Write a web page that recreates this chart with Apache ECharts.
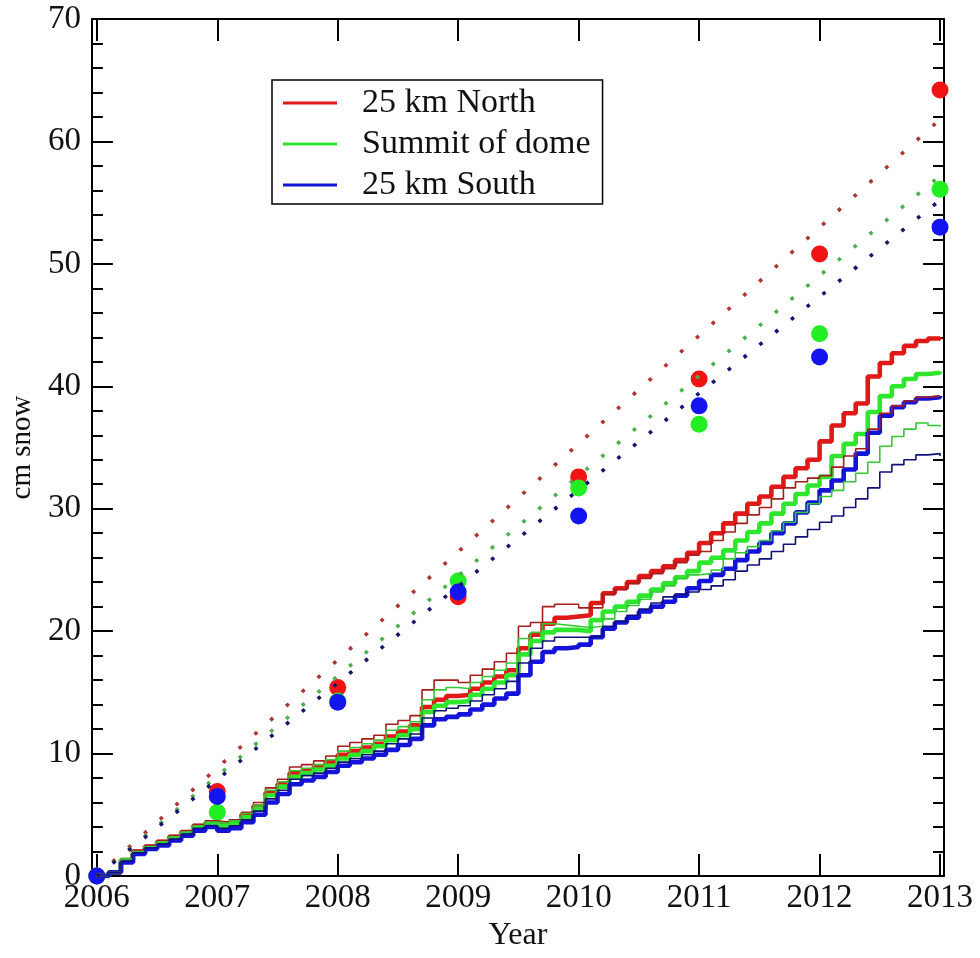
<!DOCTYPE html>
<html>
<head>
<meta charset="utf-8">
<script src="https://cdn.jsdelivr.net/npm/echarts@6/dist/echarts.min.js"></script>
<style>
  html, body { margin: 0; padding: 0; background: #fff; }
  #chart { width: 980px; height: 958px; }
</style>
</head>
<body>
<div id="chart"></div>
<script>
// Sample times (decimal years) for the accumulation records
const years = [
  2006.0, 2006.1, 2006.2, 2006.3, 2006.4, 2006.5, 2006.6, 2006.7, 2006.8, 2006.9,
  2007.0, 2007.1, 2007.2, 2007.3, 2007.4, 2007.5, 2007.6, 2007.7, 2007.8, 2007.9,
  2008.0, 2008.1, 2008.2, 2008.3, 2008.4, 2008.5, 2008.6, 2008.7, 2008.8, 2008.9,
  2009.0, 2009.1, 2009.2, 2009.3, 2009.4, 2009.5, 2009.6, 2009.7, 2009.8, 2009.9,
  2010.0, 2010.1, 2010.2, 2010.3, 2010.4, 2010.5, 2010.6, 2010.7, 2010.8, 2010.9,
  2011.0, 2011.1, 2011.2, 2011.3, 2011.4, 2011.5, 2011.6, 2011.7, 2011.8, 2011.9,
  2012.0, 2012.1, 2012.2, 2012.3, 2012.4, 2012.5, 2012.6, 2012.7, 2012.8, 2012.9,
  2013.0
];

// Cumulative snow (cm) — primary records
const northMain = [
  0, 0.3, 1.3, 2.0, 2.4, 2.8, 3.2, 3.6, 4.1, 4.3,
  4.2, 4.4, 5.0, 5.7, 6.8, 7.5, 8.4, 8.6, 8.9, 9.3,
  9.9, 10.2, 10.5, 10.8, 11.4, 11.8, 12.3, 13.8, 14.4, 14.7,
  14.8, 15.3, 15.8, 16.3, 16.8, 18.6, 19.7, 20.6, 21.1, 21.2,
  21.3, 22.3, 23.1, 23.5, 24.0, 24.5, 24.9, 25.3, 25.8, 26.4,
  27.2, 28.0, 28.8, 29.6, 30.4, 31.0, 31.8, 32.6, 33.3, 34.0,
  35.5, 36.8, 37.8, 38.6, 40.8, 41.9, 42.7, 43.3, 43.7, 43.9,
  44.0
];
const summitMain = [
  0, 0.3, 1.3, 1.9, 2.3, 2.7, 3.1, 3.5, 4.0, 4.3,
  4.1, 4.3, 4.8, 5.5, 6.6, 7.3, 8.1, 8.4, 8.7, 9.0,
  9.6, 9.9, 10.2, 10.6, 11.1, 11.5, 12.0, 13.4, 13.9, 14.2,
  14.3, 14.8, 15.3, 15.8, 16.4, 18.1, 19.2, 19.9, 20.1, 20.1,
  20.0, 20.9, 21.6, 22.0, 22.4, 22.9, 23.4, 23.9, 24.4, 24.9,
  25.6, 26.0, 26.6, 27.4, 28.1, 28.8, 29.6, 30.4, 31.2, 31.9,
  32.6, 34.3, 35.3, 36.1, 37.9, 39.2, 40.0, 40.6, 41.0, 41.1,
  41.2
];
const southMain = [
  0, 0.3, 1.1, 1.8, 2.2, 2.5, 2.9, 3.3, 3.7, 4.0,
  3.7, 3.9, 4.4, 5.0, 6.0, 6.7, 7.5, 7.8, 8.1, 8.5,
  9.0, 9.3, 9.6, 9.9, 10.3, 10.7, 11.2, 12.3, 12.8, 13.0,
  13.2, 13.6, 14.0, 14.5, 14.9, 16.4, 17.5, 18.3, 18.6, 18.7,
  18.9, 19.5, 20.2, 20.7, 21.1, 21.6, 22.0, 22.4, 22.9, 23.5,
  24.1, 24.6, 25.1, 25.8, 26.5, 27.2, 28.0, 28.8, 29.7, 30.5,
  31.5, 32.3, 33.2, 34.5, 36.2, 37.6, 38.3, 38.7, 39.0, 39.1,
  39.2
];

// Cumulative snow (cm) — secondary records
const northAlt = [
  0, 0.3, 1.4, 2.1, 2.5, 2.9, 3.3, 3.7, 4.2, 4.5,
  4.4, 4.6, 5.2, 6.0, 7.2, 7.9, 8.9, 9.1, 9.4, 9.8,
  10.6, 10.9, 11.2, 11.5, 12.4, 12.7, 13.1, 15.2, 16.0, 16.0,
  15.8, 16.4, 16.9, 17.5, 18.2, 20.4, 20.7, 22.0, 22.2, 22.2,
  21.9, 21.9, 23.0, 23.4, 23.9, 24.3, 24.7, 25.1, 25.6, 26.2,
  26.5, 27.4, 28.1, 28.8, 29.5, 30.1, 30.8, 31.7, 32.2, 32.5,
  32.7, 33.4, 34.3, 34.9, 36.5, 37.8, 38.4, 38.8, 39.1, 39.2,
  39.2
];
const summitAlt = [
  0, 0.3, 1.4, 2.0, 2.4, 2.8, 3.2, 3.6, 4.1, 4.4,
  4.3, 4.5, 5.1, 5.8, 7.0, 7.7, 8.6, 8.8, 9.1, 9.5,
  10.2, 10.5, 10.8, 11.1, 11.9, 12.2, 12.6, 14.4, 15.2, 15.4,
  15.3, 15.8, 16.3, 16.8, 17.4, 19.4, 19.9, 20.6, 20.5, 20.4,
  20.3, 20.4, 21.0, 21.6, 22.1, 22.6, 23.2, 23.7, 24.3, 24.6,
  24.7, 25.0, 25.9, 26.4, 26.9, 27.4, 28.2, 28.9, 29.7, 30.4,
  31.0, 31.5, 32.2, 32.9, 33.8, 35.1, 35.9, 36.5, 37.0, 36.8,
  36.7
];
const southAlt = [
  0, 0.3, 1.2, 1.9, 2.3, 2.6, 3.0, 3.4, 3.9, 4.1,
  3.9, 4.1, 4.6, 5.3, 6.3, 7.0, 7.9, 8.2, 8.4, 8.8,
  9.3, 9.6, 9.9, 10.2, 10.8, 11.2, 11.6, 12.9, 13.5, 13.7,
  13.9, 14.3, 14.8, 15.3, 15.9, 17.4, 18.6, 19.2, 19.5, 19.5,
  19.5, 19.6, 20.4, 20.8, 21.3, 21.8, 22.3, 22.8, 23.0, 23.2,
  23.4, 23.7, 24.2, 24.9, 25.4, 25.9, 26.5, 27.1, 27.7, 28.3,
  28.9, 29.4, 30.1, 30.8, 31.7, 33.0, 33.6, 34.0, 34.4, 34.5,
  34.3
];

// Yearly stake readings (cm)
const stakeYears = [2006, 2007, 2008, 2009, 2010, 2011, 2012, 2013];
const northStakes  = [0, 6.9, 15.4, 22.8, 32.6, 40.6, 50.8, 64.2];
const summitStakes = [0, 5.2, 14.3, 24.1, 31.7, 36.9, 44.3, 56.1];
const southStakes  = [0, 6.5, 14.2, 23.2, 29.4, 38.4, 42.4, 53.0];

// Linear trends: value at start and end of the period
const trendYears = [2006, 2013];
const northTrend  = [0, 61.8];
const summitTrend = [0, 57.2];
const southTrend  = [0, 55.2];

// Axis ticks
const yearTicks = [2006, 2007, 2008, 2009, 2010, 2011, 2012, 2013];

const FONT = 'Liberation Serif';
const INK = '#111';

const pairs = (xs, ys) => xs.map((x, i) => [x, ys[i]]);

// Accumulation records are drawn as staircases (snow arrives in events)
function record(name, values, color, width) {
  return {
    name, type: 'line', step: 'end',
    symbol: 'none', showSymbol: false,
    data: pairs(years, values),
    lineStyle: { color, width },
    itemStyle: { color },
    silent: true
  };
}

function trend(values, color, period) {
  const dot = 3.6;
  return {
    type: 'line', symbol: 'none', showSymbol: false,
    data: pairs(trendYears, values),
    lineStyle: { color, width: dot, type: [dot, period - dot], cap: 'butt' },
    silent: true
  };
}

function stakes(values, color) {
  return {
    type: 'scatter', symbol: 'circle', symbolSize: 17,
    data: pairs(stakeYears, values),
    itemStyle: { color, opacity: 1 },
    silent: true
  };
}

const xCommon = {
  type: 'value', min: 2005.959, max: 2013.033,
  axisLine: { show: true, onZero: false, lineStyle: { color: '#000', width: 2 } },
  axisTick: { show: true, inside: true, length: 22, customValues: yearTicks,
              lineStyle: { color: '#000', width: 2 } },
  splitLine: { show: false }
};
const yCommon = {
  type: 'value', min: 0, max: 70, interval: 10,
  axisLine: { show: true, lineStyle: { color: '#000', width: 2 } },
  axisTick: { show: true, inside: true, length: 21, lineStyle: { color: '#000', width: 2 } },
  minorTick: { show: true, splitNumber: 5, length: 11, lineStyle: { color: '#000', width: 2 } },
  splitLine: { show: false },
  minorSplitLine: { show: false }
};

const chart = echarts.init(document.getElementById('chart'), null, { renderer: 'canvas' });
chart.setOption({
  backgroundColor: '#fff',
  animation: false,
  grid: { left: 88, right: 36, top: 19, bottom: 82, containLabel: false },
  legend: {
    orient: 'vertical', left: 272, top: 80,
    padding: [6, 12, 2, 11], itemGap: 7,
    itemWidth: 54, itemHeight: 3, icon: 'rect',
    borderColor: '#000', borderWidth: 1.5, backgroundColor: '#fff',
    data: ['25 km North', 'Summit of dome', '25 km South'],
    textStyle: { fontFamily: FONT, fontSize: 34, lineHeight: 33, color: INK, padding: [0, 0, 0, 20] },
    selectedMode: false
  },
  xAxis: [
    Object.assign({}, xCommon, {
      position: 'bottom',
      axisLabel: { show: true, customValues: yearTicks, margin: 6,
                   formatter: v => String(v),
                   fontFamily: FONT, fontSize: 33, color: INK },
      name: 'Year', nameLocation: 'middle', nameGap: 44,
      nameTextStyle: { fontFamily: FONT, fontSize: 32, color: INK }
    }),
    Object.assign({}, xCommon, { position: 'top', axisLabel: { show: false } })
  ],
  yAxis: [
    Object.assign({}, yCommon, {
      position: 'left',
      axisLabel: { show: true, margin: 11, fontFamily: FONT, fontSize: 33, color: INK },
      name: 'cm snow', nameLocation: 'middle', nameGap: 52,
      nameTextStyle: { fontFamily: FONT, fontSize: 29, color: INK }
    }),
    Object.assign({}, yCommon, { position: 'right', axisLabel: { show: false } })
  ],
  series: [
    record('25 km North', northMain, '#e01818', 4.6),
    record('Summit of dome', summitMain, '#2ee62e', 4.6),
    record('25 km South', southMain, '#1414d8', 4.6),
    record('North, second record', northAlt, '#a81c1c', 1.6),
    record('Summit, second record', summitAlt, '#34c834', 1.6),
    record('South, second record', southAlt, '#10107e', 1.6),
    trend(northTrend, '#b03434', 21.19),
    trend(summitTrend, '#4cb04c', 20.50),
    trend(southTrend, '#14146e', 20.22),
    stakes(northStakes, '#f01414'),
    stakes(summitStakes, '#22ee22'),
    stakes(southStakes, '#1414f0')
  ]
});
</script>
</body>
</html>
